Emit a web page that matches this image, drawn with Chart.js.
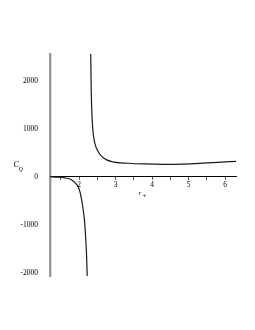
<!DOCTYPE html>
<html>
<head>
<meta charset="utf-8">
<script src="https://cdn.jsdelivr.net/npm/chart.js@4/dist/chart.umd.min.js"></script>
<style>
  html, body { margin: 0; padding: 0; background: #fff; }
  #wrap { width: 255px; height: 330px; }
</style>
</head>
<body>
<div id="wrap"><canvas id="chartCq"></canvas></div>
<script>
// r_+ values and C_Q values (two branches around the pole)
const negR = [1.2, 1.4, 1.6, 1.75, 1.85, 1.93, 2.02, 2.09, 2.14, 2.165, 2.2, 2.222];
const negC = [0, -10, -25, -50, -100, -160, -310, -590, -870, -1110, -1590, -2100];
const posR = [2.315, 2.33, 2.357, 2.385, 2.43, 2.52, 2.66, 2.89, 3.35, 3.8, 4.3, 4.8, 5.3, 5.8, 6.3];
const posC = [2650, 1800, 1180, 900, 695, 520, 395, 312, 280, 265, 258, 262, 278, 296, 320];

const xTicks = [2, 3, 4, 5, 6];
const yTicks = [-2000, -1000, 0, 1000, 2000];

const serif = '"Liberation Serif", "DejaVu Serif", serif';

function toPoints(xs, ys) {
  return xs.map((x, i) => ({ x: x, y: ys[i] }));
}

// axis titles with subscripts, drawn as text
const axisTitles = {
  id: 'axisTitles',
  afterDraw(chart) {
    const ctx = chart.ctx;
    ctx.save();
    ctx.fillStyle = '#000';
    ctx.textBaseline = 'alphabetic';
    ctx.font = 'italic 8px ' + serif;
    ctx.fillText('C', 13.5, 166.5);
    ctx.font = 'italic 6px ' + serif;
    ctx.fillText('Q', 18.5, 171);
    ctx.font = 'italic 7px ' + serif;
    ctx.fillText('r', 138.5, 194.5);
    ctx.font = '7px ' + serif;
    ctx.fillText('+', 142.5, 197.5);
    ctx.restore();
  },
};

const ctxCq = document.getElementById('chartCq').getContext('2d');
const cqChart = new Chart(ctxCq, {
  type: 'line',
  data: {
    datasets: [
      {
        data: toPoints(negR, negC),
        borderColor: '#1a1a1a',
        borderWidth: 1.2,
        pointRadius: 0,
        cubicInterpolationMode: 'monotone',
        fill: false,
      },
      {
        data: toPoints(posR, posC),
        borderColor: '#1a1a1a',
        borderWidth: 1.2,
        pointRadius: 0,
        cubicInterpolationMode: 'monotone',
        fill: false,
      },
    ],
  },
  options: {
    responsive: true,
    maintainAspectRatio: false,
    animation: false,
    events: [],
    layout: { padding: { left: 0, right: 19, top: 54, bottom: 54 } },
    plugins: {
      legend: { display: false },
      tooltip: { enabled: false },
    },
    scales: {
      x: {
        type: 'linear',
        position: { y: 0 },
        min: 1.2,
        max: 6.3,
        afterBuildTicks: (scale) => {
          const list = [];
          xTicks.forEach((v) => {
            list.push({ value: v - 0.5 });
            list.push({ value: v });
          });
          scale.ticks = list.filter((t) => t.value >= 1.2);
        },
        ticks: {
          autoSkip: false,
          maxRotation: 0,
          padding: 1,
          color: '#000',
          font: { family: serif, size: 7.5 },
          callback: (v) => (xTicks.includes(v) ? String(v) : ''),
        },
        grid: {
          display: true,
          drawOnChartArea: false,
          drawTicks: true,
          tickLength: 3,
          color: '#333',
          lineWidth: 0.8,
        },
        border: { display: true, color: '#000', width: 1 },
      },
      y: {
        type: 'linear',
        position: 'left',
        min: -2070,
        max: 2556,
        afterBuildTicks: (scale) => {
          scale.ticks = yTicks.map((v) => ({ value: v }));
        },
        afterFit: (scale) => {
          scale.width = 50;
        },
        ticks: {
          padding: 4,
          color: '#000',
          font: { family: serif, size: 7.5 },
          callback: (v) => String(v),
        },
        grid: { display: false },
        border: { display: true, color: '#999', width: 2.4 },
      },
    },
  },
  plugins: [axisTitles],
});
</script>
</body>
</html>
